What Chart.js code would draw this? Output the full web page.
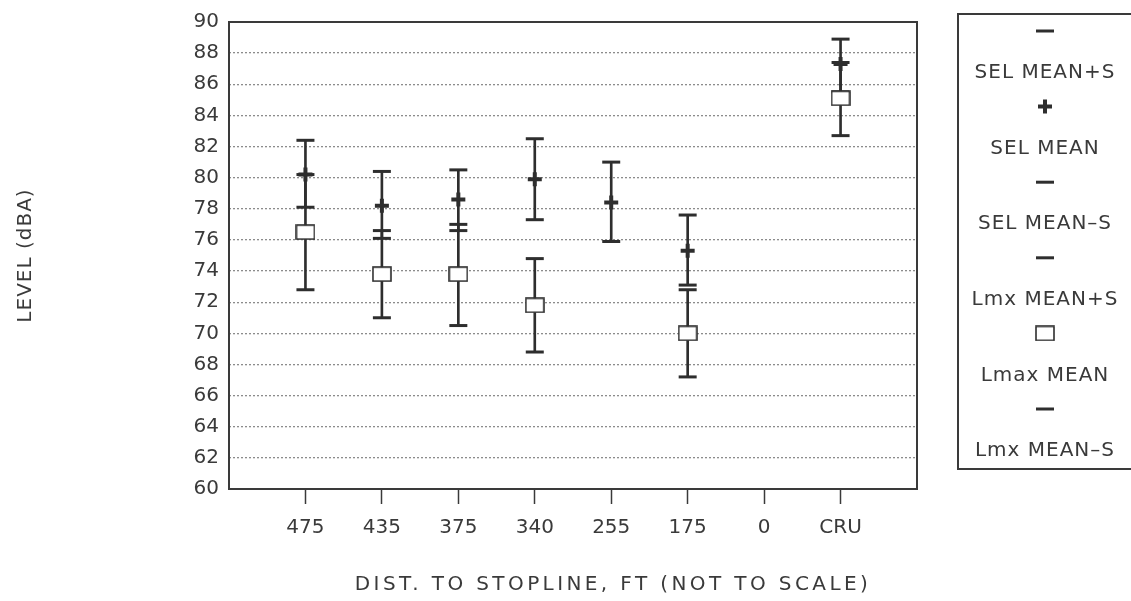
<!DOCTYPE html>
<html>
<head>
<meta charset="utf-8">
<script src="https://cdn.jsdelivr.net/npm/chart.js@4/dist/chart.umd.min.js"></script>
<style>
body { margin: 0; background: #fff; }
</style>
</head>
<body>
<canvas id="levelChart" width="1131" height="601"></canvas>
<script>
// distance categories along the x axis
var distances = ["475", "435", "375", "340", "255", "175", "0", "CRU"];

// SEL (sound exposure level) mean and mean +/- one std dev
var selPlusS  = [82.4, 80.4, 80.5, 82.5, 81.0, 77.6, null, 88.9];
var selMean   = [80.2, 78.2, 78.6, 79.9, 78.4, 75.3, null, 87.3];
var selMinusS = [78.1, 76.1, 76.6, 77.3, 75.9, 73.1, null, 85.5];

// Lmax mean and mean +/- one std dev
var lmxPlusS  = [80.2, 76.6, 77.0, 74.8, null, 72.8, null, 87.4];
var lmxMean   = [76.5, 73.8, 73.8, 71.8, null, 70.0, null, 85.1];
var lmxMinusS = [72.8, 71.0, 70.5, 68.8, null, 67.2, null, 82.7];

var legendLabels = ["SEL MEAN+S", "SEL MEAN", "SEL MEAN\u2013S", "Lmx MEAN+S", "Lmax MEAN", "Lmx MEAN\u2013S"];

var ink = "#2e2e2e";
var textColor = "#3a3a3a";

Chart.defaults.font.family = '"DejaVu Sans", sans-serif';
Chart.defaults.font.size = 20;
Chart.defaults.color = textColor;

function points(values) {
    var out = [];
    values.forEach(function(v, i) {
        if (v != null) out.push({ x: i, y: v });
    });
    return out;
}

function ranges(lo, hi) {
    var out = [];
    lo.forEach(function(v, i) {
        if (v != null && hi[i] != null) out.push({ x: i, y: [v, hi[i]] });
    });
    return out;
}

// little open box used for the Lmax mean marker
var boxMark = document.createElement("canvas");
boxMark.width = 20;
boxMark.height = 16;
var bctx = boxMark.getContext("2d");
bctx.fillStyle = "#fff";
bctx.fillRect(1, 1, 18, 14);
bctx.strokeStyle = ink;
bctx.lineWidth = 1.6;
bctx.strokeRect(1, 1, 18, 14);

function marker(label, values, style, radius, width, order) {
    return {
        label: label,
        data: points(values),
        pointStyle: style,
        pointRadius: radius,
        pointHoverRadius: radius,
        pointBorderWidth: width,
        pointBorderColor: ink,
        pointBackgroundColor: ink,
        order: order
    };
}

function stem(lo, hi) {
    return {
        type: "bar",
        data: ranges(lo, hi),
        backgroundColor: ink,
        borderWidth: 0,
        barThickness: 2,
        grouped: false,
        order: 10
    };
}

var frameAndLegend = {
    id: "frameAndLegend",
    beforeDatasetsDraw: function(chart) {
        var a = chart.chartArea;
        var ctx = chart.ctx;
        ctx.save();
        ctx.strokeStyle = "#3a3a3a";
        ctx.lineWidth = 2;
        ctx.strokeRect(a.left, a.top, a.right - a.left, a.bottom - a.top);
        ctx.restore();
    },
    afterDraw: function(chart) {
        var ctx = chart.ctx;
        var a = chart.chartArea;
        ctx.save();

        // axis titles
        ctx.fillStyle = textColor;
        ctx.textAlign = "center";
        ctx.textBaseline = "middle";
        ctx.font = '20px "DejaVu Sans"';
        ctx.letterSpacing = "3.4px";
        ctx.fillText("DIST. TO STOPLINE, FT (NOT TO SCALE)", 613, 585);

        ctx.save();
        ctx.letterSpacing = "1px";
        ctx.translate(26, (a.top + a.bottom) / 2);
        ctx.rotate(-Math.PI / 2);
        ctx.fillText("LEVEL (dBA)", 0, 0);
        ctx.restore();

        // legend box, symbol above its label
        ctx.strokeStyle = "#3a3a3a";
        ctx.lineWidth = 2;
        ctx.strokeRect(958, 14, 200, 455);

        var cx = 1045;
        var marks = chart.data.datasets.filter(function(d) { return d.type !== "bar"; });
        marks.forEach(function(d, k) {
            var y = 31 + k * 75.6;
            ctx.strokeStyle = d.pointBorderColor;
            ctx.fillStyle = d.pointBackgroundColor;
            ctx.lineWidth = d.pointBorderWidth;
            Chart.helpers.drawPoint(ctx, {
                pointStyle: d.pointStyle,
                radius: d.pointRadius,
                borderWidth: d.pointBorderWidth,
                rotation: 0
            }, cx, y);
            ctx.fillStyle = textColor;
            ctx.letterSpacing = "1px";
            ctx.font = '20px "DejaVu Sans"';
            ctx.fillText(d.label, cx, y + 42);
        });
        ctx.restore();
    }
};

var ctx = document.getElementById("levelChart").getContext("2d");

var levelChart = new Chart(ctx, {
    type: "scatter",
    data: {
        datasets: [
            marker(legendLabels[0], selPlusS, "line", 9, 3, 1),
            marker(legendLabels[1], selMean, "cross", 7, 4, 0),
            marker(legendLabels[2], selMinusS, "line", 9, 3, 1),
            marker(legendLabels[3], lmxPlusS, "line", 9, 3, 1),
            marker(legendLabels[4], lmxMean, boxMark, 10, 1.6, -1),
            marker(legendLabels[5], lmxMinusS, "line", 9, 3, 1),
            stem(selMinusS, selPlusS),
            stem(lmxMinusS, lmxPlusS)
        ]
    },
    options: {
        responsive: false,
        animation: false,
        layout: { padding: { left: 0, top: 15, right: 214, bottom: 0 } },
        plugins: {
            legend: { display: false },
            tooltip: { enabled: false }
        },
        scales: {
            x: {
                type: "linear",
                min: -1,
                max: 8,
                offset: false,
                border: { display: false },
                grid: {
                    offset: false,
                    drawOnChartArea: false,
                    drawTicks: true,
                    tickLength: 15,
                    tickWidth: 1.5,
                    tickColor: "#3a3a3a"
                },
                afterBuildTicks: function(scale) {
                    scale.ticks = distances.map(function(d, i) { return { value: i }; });
                },
                afterFit: function(scale) { scale.height = 112; },
                ticks: {
                    padding: 12,
                    maxRotation: 0,
                    callback: function(value) { return distances[value]; }
                }
            },
            y: {
                type: "linear",
                min: 60,
                max: 90,
                beginAtZero: false,
                border: { display: false, dash: [2, 2] },
                grid: {
                    color: "#8c8c8c",
                    lineWidth: 1.3,
                    drawTicks: false
                },
                afterFit: function(scale) { scale.width = 229; },
                ticks: {
                    stepSize: 2,
                    padding: 10
                }
            }
        }
    },
    plugins: [frameAndLegend]
});
</script>
</body>
</html>
